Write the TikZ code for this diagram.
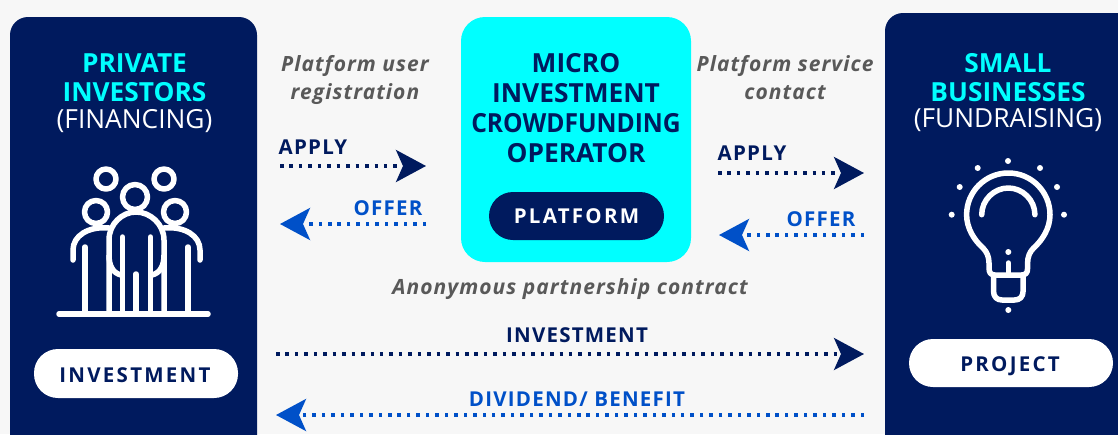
\documentclass[tikz,border=0pt]{standalone}
\usepackage{graphicx}
\usepackage{fontspec}
\setmainfont{Open Sans}
\newfontfamily\lsa[LetterSpace=6]{Open Sans}
\newfontfamily\lsb[LetterSpace=11]{Open Sans}
\newfontfamily\lsc[LetterSpace=5]{Open Sans}
\usetikzlibrary{arrows.meta}
\definecolor{navy}{HTML}{001A5E}
\definecolor{bluex}{HTML}{0050C8}
\definecolor{bgx}{HTML}{F7F7F7}
\definecolor{cyanx}{HTML}{00FFFF}
\definecolor{greyx}{HTML}{595959}
\tikzset{
  panel/.style={fill=navy,draw=none,rounded corners=18pt},
  pill/.style={fill=white,draw=none,rounded corners=24pt},
  icon/.style={draw=white,line width=5.5pt,line cap=round,line join=round},
  dotdark/.style={navy,line width=3.5pt,dash pattern=on 3.5pt off 5.95pt,-{Stealth[length=30pt,width=32pt,inset=7pt]}},
  dotblue/.style={bluex,line width=3.5pt,dash pattern=on 3.5pt off 5.95pt,-{Stealth[length=30pt,width=32pt,inset=7pt]}},
  title/.style={align=center,font=\fontsize{26.3}{28.5}\selectfont,inner sep=0pt},
  note/.style={align=center,text=greyx,font=\lsc\fontsize{21}{28}\selectfont\bfseries\itshape,inner sep=0pt},
  lab/.style={font=\lsa\fontsize{20.5}{22}\selectfont\bfseries,inner sep=0pt},
  pilltext/.style={font=\lsb\fontsize{20.5}{22}\selectfont\bfseries,inner sep=0pt},
}
\begin{document}
\begin{tikzpicture}[x=1pt,y=-1pt]
\useasboundingbox (0,0) rectangle (1118,434);
\fill[bgx] (0,0) rectangle (1118,434);
% panels
\begin{scope}
\clip (0,0) rectangle (1118,434);
\fill[panel] (10,17) rectangle (257,470);
\fill[panel] (885,13) rectangle (1160,470);
\end{scope}
\fill[cyanx,rounded corners=24pt] (461,17) rectangle (691,262);
% pills
\fill[pill] (34,349) rectangle (238,398);
\fill[pill] (909,339) rectangle (1113,387);
\fill[navy,rounded corners=24pt] (489,192) rectangle (664,240);
\node[pilltext,text=navy] (inv) at (135,375.5) {INVESTMENT};
\node[pilltext,text=navy] (proj) at (1010,366) {PROJECT};
\node[pilltext,text=white] (plat) at (576.5,216.5) {PLATFORM};
% titles
\node[title,text=cyanx] (pi) at (134.5,77.5) {\bfseries PRIVATE\\\bfseries INVESTORS};
\node[title,text=white] (fin) at (134.5,121) {(FINANCING)};
\node[title,text=cyanx] (sb) at (1008,77.5) {\bfseries SMALL\\\bfseries BUSINESSES};
\node[title,text=white] (fun) at (1008,120.5) {(FUNDRAISING)};
\node[title,text=navy,font=\fontsize{26.3}{30}\selectfont] (op) at (576,108.5) {\bfseries MICRO\\\bfseries INVESTMENT\\\scalebox{0.935}[1]{\bfseries CROWDFUNDING}\\\bfseries OPERATOR};
% notes
\node[note] (n1) at (355,80) {Platform user\\registration};
\node[note] (n2) at (785,78) {Platform service\\contact};
\node[note] (n3) at (570,289) {Anonymous partnership contract};
% labels
\node[lab,text=navy] (a1) at (313,147) {APPLY};
\node[lab,text=bluex] (o1) at (388,208) {OFFER};
\node[lab,text=navy] (a2) at (752,153) {APPLY};
\node[lab,text=bluex] (o2) at (821,219) {OFFER};
\node[lab,text=navy] (i3) at (577,335) {INVESTMENT};
\node[lab,text=bluex] (d3) at (577,399.5) {DIVIDEND/ BENEFIT};
% connector ends
\coordinate (a1s) at (280,166); \coordinate (a1e) at (426,166);
\coordinate (o1s) at (426,224); \coordinate (o1e) at (280,224);
\coordinate (a2s) at (718,173); \coordinate (a2e) at (864,173);
\coordinate (o2s) at (864,235); \coordinate (o2e) at (719,235);
\coordinate (i3s) at (276,354); \coordinate (i3e) at (864,354);
\coordinate (d3s) at (864,415); \coordinate (d3e) at (276,415);
\draw[dotdark] (a1s) -- (a1e);
\draw[dotblue] (o1s) -- (o1e);
\draw[dotdark] (a2s) -- (a2e);
\draw[dotblue] (o2s) -- (o2e);
\draw[dotdark] (i3s) -- (i3e);
\draw[dotblue] (d3s) -- (d3e);
% people icon
\begin{scope}[icon]
\draw (106,179) circle[radius=10];
\draw (164,179) circle[radius=10];
\draw (135,197) circle[radius=12.5];
\draw (96,212) circle[radius=11.5];
\draw (175,212) circle[radius=11.5];
\draw (59,314) -- (208,314);
% center body
\draw (109,314) -- (109,240) .. controls (109,224) and (122,212) .. (136,212) .. controls (150,212) and (164,224) .. (164,240) -- (164,314);
\draw[line cap=butt] (109,255) .. controls (109,266) and (113,273) .. (121,275);
\draw[line cap=butt] (164,255) .. controls (164,266) and (160,273) .. (152,275);
\draw (122.5,237) -- (122.5,314);
\draw (150.5,237) -- (150.5,314);
\draw (136,274) -- (136,314);
% left person
\draw (73,260) -- (73,250) .. controls (73,236) and (88,226) .. (109,228);
\draw (85,247) -- (85,314);
% right person
\draw (200,260) -- (200,250) .. controls (200,236) and (185,226) .. (164,228);
\draw (188,247) -- (188,314);
\end{scope}
% bulb icon
\begin{scope}[icon]
\draw (1008.3,173) .. controls (985,173) and (966.6,192) .. (966.6,214.7) .. controls (966.6,228) and (974,240) .. (983,248) .. controls (987,252) and (989,257) .. (989,263) -- (989,268) .. controls (989,273) and (991,275) .. (995,275) -- (1021.6,275) .. controls (1025.6,275) and (1027.6,273) .. (1027.6,268) -- (1027.6,263) .. controls (1027.6,257) and (1029.6,252) .. (1033.6,248) .. controls (1042.6,240) and (1050,228) .. (1050,214.7) .. controls (1050,192) and (1031.6,173) .. (1008.3,173) -- cycle;
\draw (981.7,214.7) .. controls (981.7,200) and (994,188) .. (1008.3,188) .. controls (1022.6,188) and (1034.9,200) .. (1034.9,214.7);
\draw (1008.3,263) -- (1008.3,275);
\draw (993.5,275) -- (993.5,291) .. controls (993.5,297) and (997,300) .. (1002,300) -- (1014.6,300) .. controls (1019.6,300) and (1023.1,297) .. (1023.1,291) -- (1023.1,275);
\end{scope}
\foreach \px/\py in {1008/161,977.7/168,1040/168,959.7/187,1057/187,951.7/214.7,1064/214.7,1008.3/310,1008.3/252}
  \fill[white] (\px,\py) circle[radius=3];
\end{tikzpicture}
\end{document}
